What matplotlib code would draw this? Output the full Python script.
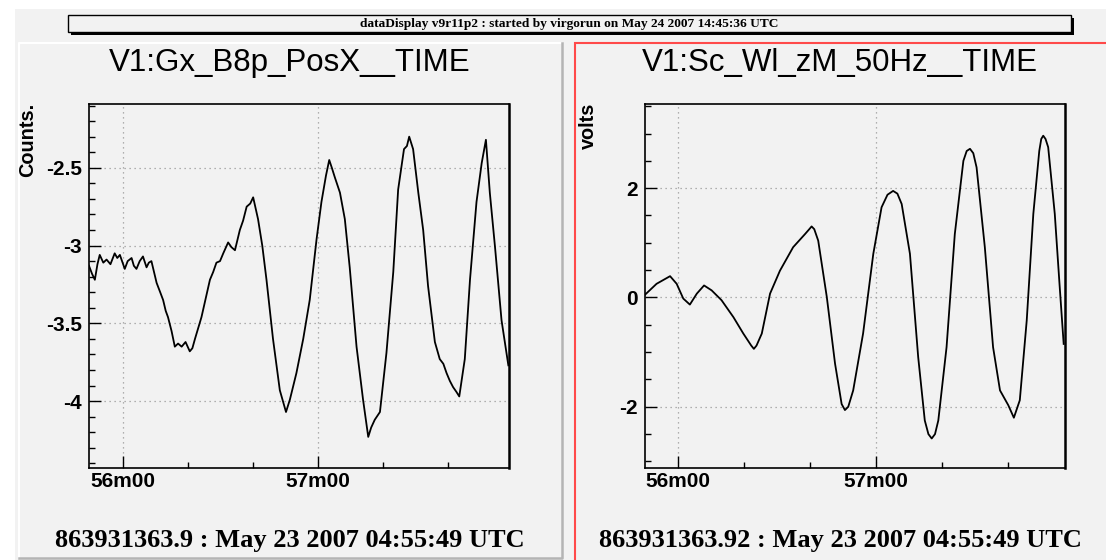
import matplotlib
matplotlib.use("Agg")
import matplotlib.pyplot as plt
from matplotlib.patches import Rectangle
from matplotlib.lines import Line2D

# time in seconds after 55m00
gx_t = [49.6, 50.5, 51.4, 52.2, 52.9, 54.0, 55.0, 56.2, 57.5, 58.3, 59.1, 60.6, 61.5,
        62.7, 63.4, 64.2, 65.2, 66.2, 67.3, 68.0, 68.8, 70.4, 71.5, 72.4, 73.2, 73.9,
        75.0, 76.0, 77.0, 78.1, 79.3, 80.6, 81.4, 82.2, 84.2, 86.8, 87.8, 88.8, 89.9,
        90.9, 92.4, 93.4, 94.5, 96.0, 97.0, 98.1, 99.2, 100.1, 101.6, 102.9, 104.2,
        106.2, 108.3, 110.2, 111.4, 113.4, 115.5, 117.5, 119.6, 121.1, 122.5, 123.5,
        124.3, 125.2, 126.8, 128.3, 129.8, 131.9, 133.9, 135.5, 136.4, 137.5, 139.1,
        141.1, 143.2, 144.7, 146.5, 147.4, 148.1, 149.3, 150.9, 152.4, 153.9, 156.0,
        157.5, 158.6, 159.6, 160.6, 161.6, 162.6, 163.5, 165.2, 166.8, 168.8, 170.4,
        171.7, 172.9, 174.5, 176.5, 178.6]
gx_val = [-3.13, -3.18, -3.22, -3.12, -3.06, -3.11, -3.09, -3.12, -3.05, -3.08, -3.06,
          -3.15, -3.10, -3.08, -3.13, -3.15, -3.10, -3.07, -3.14, -3.11, -3.10, -3.24,
          -3.30, -3.35, -3.42, -3.46, -3.55, -3.65, -3.63, -3.65, -3.62, -3.68, -3.66,
          -3.60, -3.46, -3.22, -3.17, -3.11, -3.10, -3.05, -2.98, -3.01, -3.03, -2.90,
          -2.84, -2.75, -2.73, -2.69, -2.83, -3.00, -3.22, -3.60, -3.93, -4.07, -3.99,
          -3.82, -3.60, -3.35, -2.96, -2.72, -2.55, -2.45, -2.50, -2.56, -2.66, -2.83,
          -3.14, -3.65, -3.99, -4.23, -4.17, -4.12, -4.07, -3.69, -3.17, -2.64, -2.38,
          -2.36, -2.30, -2.38, -2.66, -2.90, -3.26, -3.62, -3.73, -3.76, -3.82, -3.87,
          -3.91, -3.94, -3.97, -3.73, -3.22, -2.72, -2.47, -2.32, -2.66, -3.01, -3.48,
          -3.77]

sc_t = [50.0, 53.5, 57.6, 59.6, 61.6, 63.6, 65.7, 67.9, 70.2, 73.2, 76.8, 79.8, 82.2,
        83.0, 83.8, 85.4, 87.9, 90.9, 94.9, 98.5, 99.8, 100.5, 101.3, 102.5, 105.1,
        107.6, 109.6, 110.6, 111.6, 113.1, 116.1, 119.2, 121.7, 123.5, 125.2, 126.5,
        127.8, 130.3, 132.8, 134.8, 135.9, 136.9, 137.9, 138.9, 141.4, 143.9, 146.5,
        147.5, 148.5, 149.5, 150.5, 153.0, 155.5, 157.6, 160.1, 161.8, 163.6, 165.7,
        167.7, 169.5, 170.1, 170.7, 171.4, 172.2, 174.2, 175.7, 176.9]
sc_val = [0.05, 0.25, 0.39, 0.25, -0.02, -0.13, 0.07, 0.22, 0.13, -0.05, -0.36, -0.66,
          -0.88, -0.94, -0.88, -0.66, 0.07, 0.49, 0.92, 1.16, 1.25, 1.30, 1.25, 1.04,
          0.01, -1.21, -1.95, -2.06, -2.00, -1.70, -0.66, 0.80, 1.65, 1.88, 1.95, 1.90,
          1.71, 0.80, -1.09, -2.25, -2.50, -2.58, -2.50, -2.25, -0.91, 1.16, 2.50, 2.68,
          2.72, 2.64, 2.38, 0.92, -0.91, -1.70, -1.97, -2.20, -1.88, -0.42, 1.53, 2.68,
          2.90, 2.96, 2.90, 2.75, 1.53, 0.19, -0.85]

titles = ["V1:Gx_B8p_PosX__TIME", "V1:Sc_Wl_zM_50Hz__TIME"]
ylabels = ["Counts.", "volts"]
footers = ["863931363.9 : May 23 2007 04:55:49 UTC", "863931363.92 : May 23 2007 04:55:49 UTC"]
header = "dataDisplay v9r11p2 : started by virgorun on May 24 2007 14:45:36 UTC"
xmajor = [60, 120]
xmajor_labels = ["56m00", "57m00"]
xminor = [80, 100, 140, 160]

W, H = 1106, 560
BG = "#f2f2f2"
fig = plt.figure(figsize=(W / 100, H / 100), dpi=100, facecolor="white")


def fx(px):
    return px / W


def fy(py):
    return 1 - py / H


def frect(x0, y0, x1, y1, **kw):
    r = Rectangle((fx(x0), fy(y1)), fx(x1) - fx(x0), fy(y0) - fy(y1),
                  transform=fig.transFigure, **kw)
    fig.add_artist(r)


def fline(xs, ys, **kw):
    fig.add_artist(Line2D([fx(x) for x in xs], [fy(y) for y in ys],
                          transform=fig.transFigure, **kw))


# canvas + pads
frect(15, 9, 1110, 565, facecolor=BG, edgecolor="none", zorder=0)
fline([19, 19, 562], [558, 43, 43], color="white", lw=1.5, zorder=0.6)
fline([19, 562, 562], [558, 558, 43], color="#b4b4b4", lw=1.8, zorder=0.6)
frect(575, 43, 1115, 565, facecolor=BG, edgecolor="#ff4a4a", lw=1.5, zorder=0.5)

# header box with shadow
frect(71, 18, 1074, 35, facecolor="black", edgecolor="none", zorder=1)
frect(68, 15, 1071, 32, facecolor=BG, edgecolor="black", lw=1.0, zorder=1.1)
fig.text(fx(569.5), fy(24), header, ha="center", va="center", fontsize=9.6,
         family="Liberation Serif", weight="bold", zorder=2)

pads = [(89, 290, 28), (645, 840, 588)]
xlims = [(49.6, 178.8), (50.0, 177.3)]
ylims = [(-4.43, -2.09), (-3.12, 3.54)]
ymajors = [[-4, -3.5, -3, -2.5], [-2, 0, 2]]
ylabs = [["-4", "-3.5", "-3", "-2.5"], ["-2", "0", "2"]]
yminor_step = [0.1, 0.5]
series = [(gx_t, gx_val), (sc_t, sc_val)]

for i in range(2):
    ax_left, pad_cx, ylab_x = pads[i]
    ax = fig.add_axes([fx(ax_left), fy(468), 420 / W, 364 / H])
    ax.set_facecolor(BG)
    ax.set_zorder(3)
    t, v = series[i]
    ax.plot(t, v, color="black", lw=1.3)
    ax.set_xlim(*xlims[i])
    ax.set_ylim(*ylims[i])

    ax.set_xticks(xmajor, labels=xmajor_labels)
    ax.set_xticks(xminor, minor=True)
    ax.set_yticks(ymajors[i], labels=ylabs[i])
    lo, hi = ylims[i]
    st = yminor_step[i]
    k0 = int(lo / st) - 1
    mins = [round(k * st, 3) for k in range(k0, int(hi / st) + 2)]
    mins = [m for m in mins if lo < m < hi and m not in ymajors[i]]
    ax.set_yticks(mins, minor=True)

    ax.tick_params(which="both", direction="in", top=False, right=False,
                   width=1.0, color="black")
    ax.tick_params(which="major", length=8.5)
    ax.tick_params(which="minor", length=4.3)
    ax.tick_params(axis="y", pad=5)
    ax.tick_params(axis="x", pad=3)
    for lab in ax.get_xticklabels() + ax.get_yticklabels():
        lab.set_family("Liberation Sans")
        lab.set_weight("bold")
        lab.set_fontsize(15)
    ax.grid(True, which="major", color="#9a9a9a", ls=(0, (1, 3)), lw=0.9)
    for s in ax.spines.values():
        s.set_linewidth(1.2)
    ax.spines["right"].set_linewidth(1.8)

    fig.text(fx(pad_cx), fy(63), titles[i], ha="center", va="center",
             fontsize=22.5, family="Liberation Sans", zorder=2)
    fig.text(fx(ylab_x), fy(103), ylabels[i], ha="center", va="top", rotation=90,
             fontsize=14.3, family="Liberation Sans", weight="bold", zorder=2)
    fig.text(fx(pad_cx), fy(541), footers[i], ha="center", va="center",
             fontsize=19, family="Liberation Serif", weight="bold", zorder=2)

fig.savefig("out.png", dpi=100, facecolor="white")
